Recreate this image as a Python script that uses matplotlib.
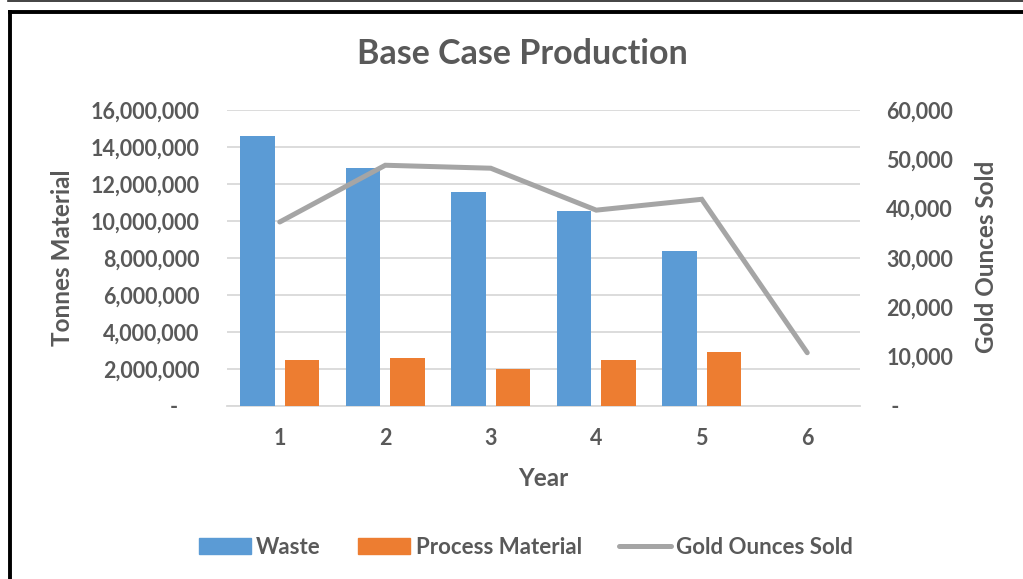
import matplotlib
matplotlib.use("Agg")
import matplotlib.pyplot as plt
from matplotlib.ticker import FuncFormatter, MultipleLocator
from matplotlib.lines import Line2D
from matplotlib.patches import Patch
import numpy as np

years = ["1", "2", "3", "4", "5", "6"]
waste = [14590000, 12850000, 11560000, 10550000, 8370000, 0]
process_material = [2470000, 2620000, 2020000, 2470000, 2900000, 0]
gold_ounces = [37300, 48800, 48200, 39700, 41900, 10800]

BLUE = "#5B9BD5"
ORANGE = "#ED7D31"
GRAY = "#A5A5A5"
TXT = "#595959"
GRID = "#D9D9D9"
FONT = "Lato"

W, H = 1023, 579
fig = plt.figure(figsize=(W / 100, H / 100), dpi=100)

# plot area in pixels
x0, x1 = 227, 860
y0, y1 = 110, 406
ax = fig.add_axes([x0 / W, 1 - y1 / H, (x1 - x0) / W, (y1 - y0) / H])
ax2 = ax.twinx()

x = np.arange(1, len(years) + 1)
bw = 0.329
off = 0.212
ax.bar(x - off, waste, width=bw, color=BLUE, zorder=3, label="Waste")
ax.bar(x + off, process_material, width=bw, color=ORANGE, zorder=3, label="Process Material")
ax2.plot(x, gold_ounces, color=GRAY, lw=3.6, solid_capstyle="round", solid_joinstyle="miter", zorder=4)

ax.set_xlim(0.5, 6.5)
ax.set_ylim(0, 16000000)
ax2.set_ylim(0, 60000)
ax.yaxis.set_major_locator(MultipleLocator(2000000))
ax2.yaxis.set_major_locator(MultipleLocator(10000))

ax.yaxis.set_major_formatter(FuncFormatter(lambda v, p: "-    " if v == 0 else f"{int(v):,}"))
ax2.yaxis.set_major_formatter(FuncFormatter(lambda v, p: " -" if v == 0 else f"{int(v):,}"))
ax.set_xticks(x)
ax.set_xticklabels(years)

ax.grid(axis="y", color=GRID, lw=1.3, zorder=0)
ax.set_axisbelow(True)
for a in (ax, ax2):
    for s in a.spines.values():
        s.set_visible(False)
ax.spines["bottom"].set_visible(True)
ax.spines["bottom"].set_color(GRID)
ax.spines["bottom"].set_linewidth(1.3)

tick_kw = dict(labelsize=15.5, labelcolor=TXT, length=0)
ax.tick_params(axis="y", pad=20, **tick_kw)
ax2.tick_params(axis="y", pad=19, **tick_kw)
ax.tick_params(axis="x", pad=16, **tick_kw)
for lbl in ax.get_yticklabels() + ax2.get_yticklabels() + ax.get_xticklabels():
    lbl.set_fontfamily(FONT)
    lbl.set_fontweight("bold")

lab_kw = dict(fontsize=17.5, color=TXT, fontweight="bold", family=FONT)
fig.text(62 / W, 1 - 258 / H, "Tonnes Material", rotation=90, ha="center", va="center", **lab_kw)
fig.text(987 / W, 1 - 257 / H, "Gold Ounces Sold", rotation=90, ha="center", va="center", **lab_kw)
fig.text(543 / W, 1 - 478 / H, "Year", ha="center", va="center", **lab_kw)
fig.text(522 / W, 1 - 54 / H, "Base Case Production", ha="center", va="center",
         fontsize=24.5, color=TXT, fontweight="bold", family=FONT)

handles = [Patch(color=BLUE), Patch(color=ORANGE), Line2D([0], [0], color=GRAY, lw=3.6, solid_capstyle="round")]
leg = fig.legend(handles, ["Waste", "Process Material", "Gold Ounces Sold"], ncol=3,
                 loc="center", bbox_to_anchor=(526 / W, 1 - 547 / H), frameon=False,
                 prop={"family": FONT, "weight": "bold", "size": 16}, labelcolor=TXT,
                 handlelength=2.34, handleheight=0.7, handletextpad=0.25, columnspacing=1.67,
                 borderpad=0.2)

# frame lines
fig.add_artist(Line2D([10 / W, 10 / W], [0, 1 - 12 / H], color="black", lw=2.8, transform=fig.transFigure))
fig.add_artist(Line2D([10 / W, 1], [1 - 12 / H, 1 - 12 / H], color="black", lw=2.8, transform=fig.transFigure))
fig.add_artist(Line2D([8 / W, 1], [1 - 0.5 / H, 1 - 0.5 / H], color="#222222", lw=1.2, transform=fig.transFigure))

fig.savefig("out.png", dpi=100, facecolor="white")
